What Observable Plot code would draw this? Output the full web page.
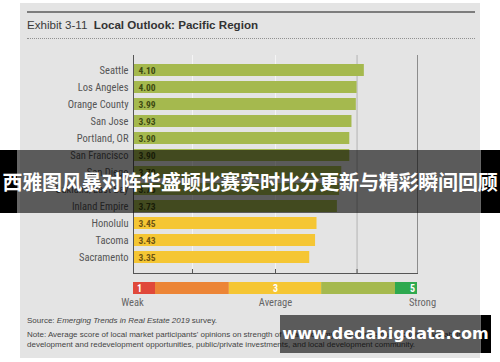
<!DOCTYPE html>
<html><head><meta charset="utf-8">
<script src="https://cdn.jsdelivr.net/npm/d3@7"></script>
<script src="https://cdn.jsdelivr.net/npm/@observablehq/plot@0.6"></script>
<style>
body{margin:0;background:#fff;width:500px;height:362px;overflow:hidden;position:relative;font-family:"Liberation Sans",Arial,sans-serif}
#panel{position:absolute;left:20px;top:3px;width:460px;height:355px;background:#e4e4e4}
#topline{position:absolute;left:27px;top:11px;width:448px;height:0;border-top:2px solid #7d7d7d}
#title{position:absolute;left:27px;top:18px;font-size:11.6px;color:#3a3a3a;white-space:nowrap}
#title b{color:#333}
#dots{position:absolute;left:27px;top:38px;width:448px;height:0;border-top:1px dotted #909090}
#chart,#legend{position:absolute;left:0}
#chart{top:0}
#legend{top:280px}
#source{position:absolute;left:27px;top:316px;font-size:8px;color:#444;white-space:nowrap}
#note{position:absolute;left:27px;top:330px;font-size:8px;line-height:9.5px;color:#444;white-space:nowrap}
.ov{position:absolute}
#band{left:17px;top:150px;width:464px;height:63px;background:rgba(0,0,0,0.6)}
#bandL{left:0;top:150px;width:17px;height:63px;background:#000}
#bandR{left:481px;top:150px;width:19px;height:63px;background:#000}
#bandText{left:0;top:150px;width:500px;height:63px;line-height:63px;text-align:center;color:#fff;font-family:"Noto Sans CJK SC",sans-serif;font-weight:bold;font-size:20px;white-space:nowrap;letter-spacing:-0.2px}
#web{left:280px;top:315px;width:201px;height:38px;background:rgba(0,0,0,0.6)}
#webR{left:481px;top:315px;width:10px;height:38px;background:#000}
#webText{left:280px;top:315px;width:211px;height:38px;line-height:38px;text-align:center;color:#fff;font-family:"DejaVu Sans",sans-serif;font-weight:bold;font-size:16px;white-space:nowrap}
</style>
</head><body>
<div id="panel"></div>
<div id="topline"></div>
<div id="title">Exhibit 3-11&nbsp; <b>Local Outlook: Pacific Region</b></div>
<div id="dots"></div>
<div id="chart"></div>
<div id="legend"></div>
<div id="source">Source: <i>Emerging Trends in Real Estate 2019</i> survey.</div>
<div id="note">Note: Average score of local market participants' opinions on strength of local economy, investor demand, capital availability,<br>development and redevelopment opportunities, public/private investments, and local development community.</div>
<div class="ov" id="bandL"></div><div class="ov" id="band"></div><div class="ov" id="bandR"></div>
<div class="ov" id="bandText">西雅图风暴对阵华盛顿比赛实时比分更新与精彩瞬间回顾</div>
<div class="ov" id="web"></div><div class="ov" id="webR"></div>
<div class="ov" id="webText">www.dedabigdata.com</div>
<script>
const cities = ["Seattle","Los Angeles","Orange County","San Jose","Portland, OR","San Francisco","San Diego","Oakland/East Bay","Inland Empire","Honolulu","Tacoma","Sacramento"];
const scores = [4.10,4.00,3.99,3.93,3.90,3.90,3.79,3.76,3.73,3.45,3.43,3.35];
const gridValues = [1.74, 2.88, 4.0];
const legendBreaks = [1, 1.31, 2.35, 3.65, 4.69, 5];
const legendColors = ["#e0483a","#ec8536","#f5c634","#a5b94e","#2ea94f"];
const legendNumbers = ["1","3","5"];
const legendNumberPos = [1,3,5];
const legendWords = ["Weak","Average","Strong"];
const legendWordPos = [1,3,5];

const narrow = '"Liberation Sans Narrow","Roboto Condensed","DejaVu Sans Condensed",sans-serif';
const x0 = 0.93, x1 = 4.83;
const greenCut = legendBreaks[3];
const data = cities.map((c,i)=>({city:c, score:scores[i]}));

const chart = Plot.plot({
  width:500, height:280, marginLeft:133, marginRight:83, marginTop:55, marginBottom:7,
  style:{background:"transparent", overflow:"visible"},
  x:{domain:[x0,x1], axis:null},
  y:{domain:cities, axis:null, paddingInner:0.29, paddingOuter:0.24},
  color:{type:"identity"},
  marks:[
    Plot.ruleX(gridValues.slice(0,2), {stroke:"#f4f4f4"}),
    Plot.ruleX([gridValues[2]], {stroke:"#b3b3b3"}),
    Plot.ruleX([x1], {stroke:"#8c8c8c"}),
    Plot.barX(data, {y:"city", x1:()=>x0, x2:"score", fill:d=>d.score>=greenCut?legendColors[3]:legendColors[2]}),
    Plot.ruleX(gridValues, {stroke:"#555", insetTop:214}),
    Plot.ruleX([x0], {stroke:"#555"}),
    Plot.frame({anchor:"bottom", stroke:"#555"}),
    Plot.text(data, {x:()=>x0, y:"city", text:"city", textAnchor:"end", dx:-5, fill:"#555", fontSize:10.5, fontFamily:narrow}),
    Plot.text(data, {x:()=>x0, y:"city", text:d=>d.score.toFixed(2), textAnchor:"start", dx:5, fill:d=>d.score>=greenCut?"#3e4a12":"#6e5412", fontWeight:"bold", fontSize:9.5, fontFamily:narrow})
  ]
});
document.getElementById("chart").appendChild(chart);

const segs = legendColors.map((c,i)=>({a:legendBreaks[i], b:legendBreaks[i+1], c}));
const numberShift = [6, 0, -5];
const wordShift = [-1, 0, 5];
const legend = Plot.plot({
  width:500, height:30, marginLeft:133, marginRight:83, marginTop:2, marginBottom:16,
  style:{background:"transparent", overflow:"visible"},
  x:{domain:[1,5], axis:null},
  color:{type:"identity"},
  marks:[
    Plot.rect(segs, {x1:"a", x2:"b", fill:"c"}),
    ...legendNumbers.map((t,i)=>Plot.text([t], {x:()=>legendNumberPos[i], text:d=>d, fill:"#fff", fontWeight:"bold", fontSize:10, fontFamily:narrow, dx:numberShift[i]})),
    ...legendWords.map((t,i)=>Plot.text([t], {x:()=>legendWordPos[i], text:d=>d, fill:"#666", fontSize:10.5, fontFamily:narrow, dy:14, dx:wordShift[i]}))
  ]
});
document.getElementById("legend").appendChild(legend);
</script>
</body></html>
